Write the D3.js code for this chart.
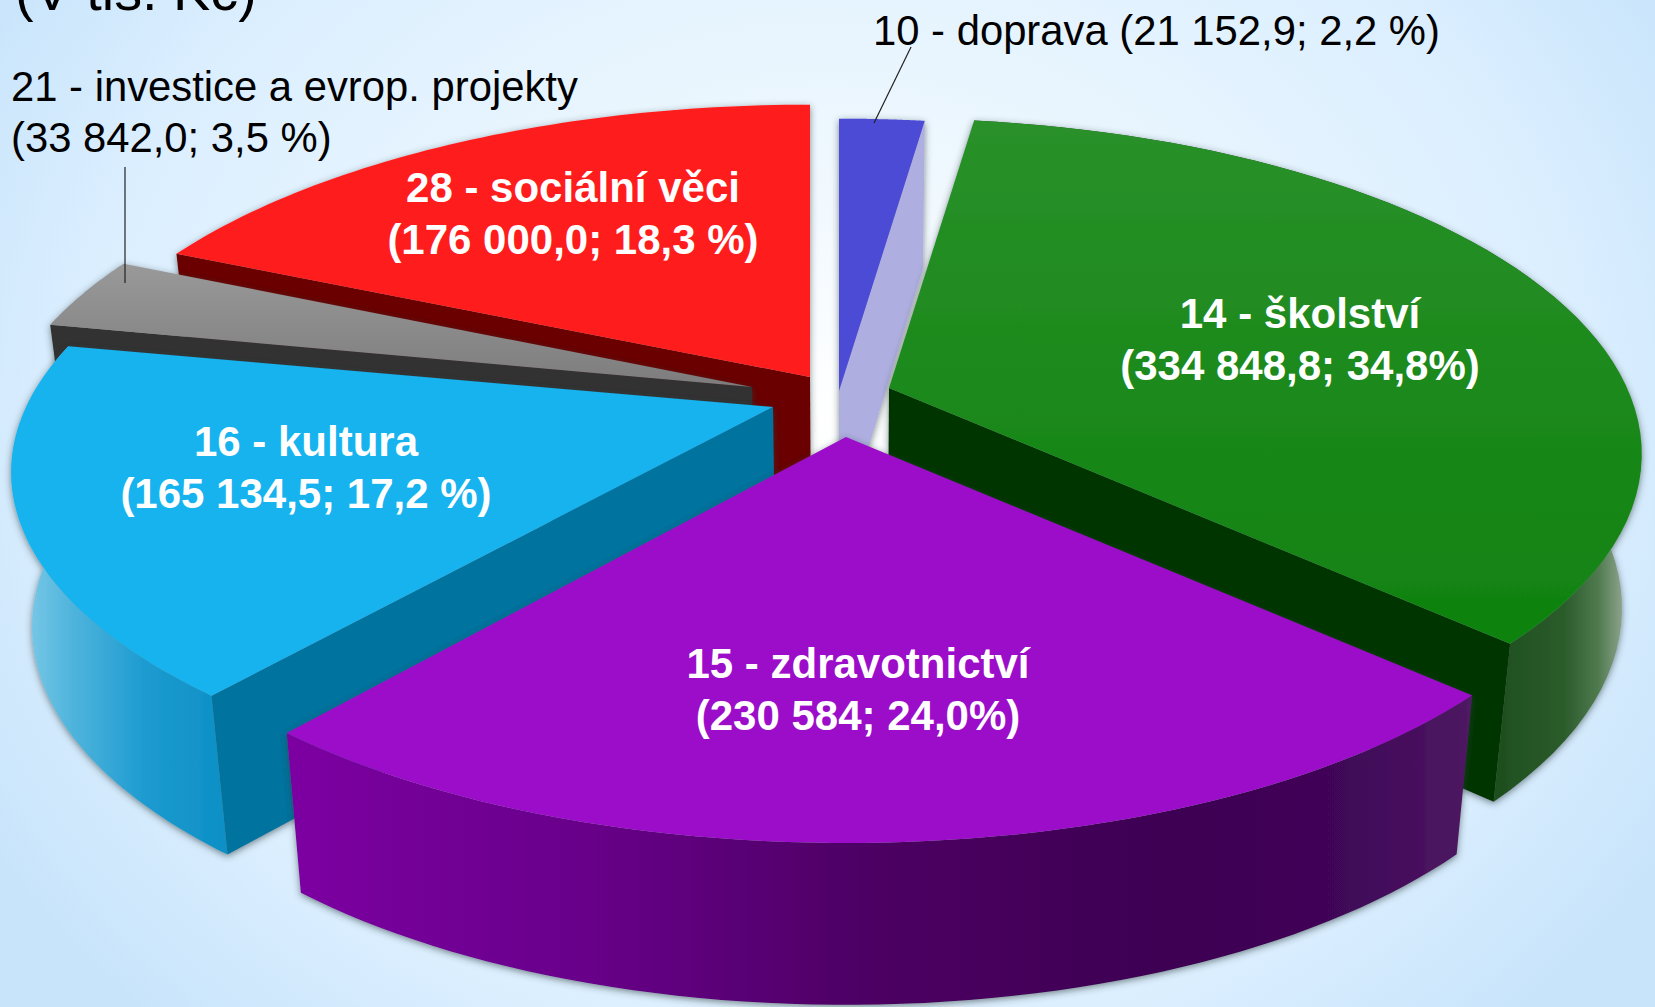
<!DOCTYPE html>
<html>
<head>
<meta charset="utf-8">
<script src="https://cdn.jsdelivr.net/npm/d3@7"></script>
<style>
	html, body { margin: 0; padding: 0; overflow: hidden; background: #e2f1fd; }
	svg { display: block; }
	text { font-family: "Liberation Sans", Arial, sans-serif; }
</style>
</head>
<body>
<div id="chart"></div>
<script>
// data
const codes = ["10", "14", "15", "16", "21", "28"];
const names = ["doprava", "školství", "zdravotnictví", "kultura", "investice a evrop. projekty", "sociální věci"];
const values = [21152.9, 334848.8, 230584, 165134.5, 33842.0, 176000.0];
const valueLabels = ["21 152,9", "334 848,8", "230 584", "165 134,5", "33 842,0", "176 000,0"];
const shareLabels = ["2,2 %", "34,8%", "24,0%", "17,2 %", "3,5 %", "18,3 %"];
const unitLabel = "(V tis. Kč)";

const width = 1655, height = 1007;

// 3d look
const radX = 744, radY = 326, persp = 0.197;
const vanishX = 850, shrink = 0.975, depth = 159;
const center = [825, 395];
const explode = [[14, -4], [64, -7], [21, 42], [-52, 12], [-73, -8], [-15, -18]];
const stretchX = [1, 0.992, 1, 1.004, 1, 1.008];
const stretchY = [1, 0.99, 1, 0.975, 1, 1];

const topColors = ["#4c4cd6", "url(#topGreen)", "#9c0bc9", "#15b3ef", "url(#topGray)", "#ff1e1e"];
const sideColors = ["#aeaee0", "#023402", null, "#06739f", "#333333", "#6a0000"];
// which radial edge shows its side: 1 = end angle, 0 = start angle
const sideEdge = [1, 1, null, 0, 0, 0];
const wallFills = [null, "url(#wallGreen)", "url(#wallPurple)", "url(#wallBlue)", null, null];
const drawOrder = [5, 4, 0, 1, 3, 2];

const svg = d3.select("#chart").append("svg")
	.attr("width", width)
	.attr("height", height);

const defs = svg.append("defs");

function addGradient(id, x1, x2, stops, vertical) {
	const g = defs.append("linearGradient")
		.attr("id", id)
		.attr("gradientUnits", "userSpaceOnUse")
		.attr("x1", vertical ? 0 : x1).attr("x2", vertical ? 0 : x2)
		.attr("y1", vertical ? x1 : 0).attr("y2", vertical ? x2 : 0);
	stops.forEach(s => g.append("stop").attr("offset", s[0]).attr("stop-color", s[1]));
}
addGradient("topGreen", 110, 640, [[0, "#2a912a"], [1, "#0f820f"]], true);
addGradient("topGray", 260, 390, [[0, "#9a9a9a"], [1, "#7c7c7c"]], true);
addGradient("wallBlue", 20, 230, [[0, "#7fcbe8"], [0.25, "#4fb4dc"], [0.6, "#1c9bd0"], [1, "#0c8fc4"]], false);
addGradient("wallPurple", 285, 1470, [[0, "#7d00a2"], [0.25, "#68008a"], [0.5, "#4c0062"], [0.75, "#3c0052"], [0.92, "#42085a"], [1, "#4e1a62"]], false);
addGradient("wallGreen", 1490, 1640, [[0, "#1c4d1c"], [0.5, "#2c5c2c"], [0.72, "#4f7a4f"], [0.92, "#9aac9a"], [1, "#a8b8a8"]], false);

const bg = defs.append("radialGradient")
	.attr("id", "bg")
	.attr("gradientUnits", "userSpaceOnUse")
	.attr("cx", 830).attr("cy", 420).attr("r", 980)
	.attr("gradientTransform", "translate(830 420) scale(1 0.85) translate(-830 -420)");
[[0, "#ffffff"], [0.45, "#e8f5fe"], [0.75, "#dcefff"], [1, "#c8e4fb"]].forEach(s => {
	bg.append("stop").attr("offset", s[0]).attr("stop-color", s[1]);
});

const shadow = defs.append("filter")
	.attr("id", "shadow")
	.attr("x", "-10%").attr("y", "-10%").attr("width", "120%").attr("height", "120%");
shadow.append("feDropShadow")
	.attr("dx", 0).attr("dy", 2)
	.attr("stdDeviation", 3.5)
	.attr("flood-color", "#2a3a3a")
	.attr("flood-opacity", 0.6);

svg.append("rect")
	.attr("width", width)
	.attr("height", height)
	.attr("fill", "url(#bg)");

const arcs = d3.pie().sort(null).startAngle(0).endAngle(2 * Math.PI)(values);
const line = d3.line();

function project(i, angle, r) {
	const side = Math.sin(angle) * r, fwd = -Math.cos(angle) * r;
	const s = 1 / (1 - persp * fwd);
	return [
		center[0] + explode[i][0] + radX * stretchX[i] * side * s,
		center[1] + explode[i][1] + radY * stretchY[i] * fwd * s
	];
}

function drop(p) {
	return [vanishX + (p[0] - vanishX) * shrink, p[1] + depth + (p[1] - 700) * 0.02];
}

function rimPoints(i) {
	const a = arcs[i];
	return d3.range(61).map(k => project(i, a.startAngle + (a.endAngle - a.startAngle) * k / 60, 1));
}

drawOrder.forEach(i => {
	const g = svg.append("g").attr("filter", "url(#shadow)");
	const rim = rimPoints(i);
	const apex = project(i, 0, 0);

	// outer wall, the back slices never show theirs
	if (wallFills[i]) {
		g.append("path")
			.attr("d", line(rim.concat(rim.map(drop).reverse())) + "Z")
			.attr("fill", wallFills[i]);
	}

	// radial side
	if (sideEdge[i] !== null) {
		const corner = sideEdge[i] ? rim[rim.length - 1] : rim[0];
		g.append("path")
			.attr("d", line([apex, corner, drop(corner), drop(apex)]) + "Z")
			.attr("fill", sideColors[i]);
	}

	// top
	g.append("path")
		.attr("d", line([apex].concat(rim)) + "Z")
		.attr("fill", topColors[i]);
});

// labels inside the big slices
const inside = [
	{i: 5, x: 573, y: 202},
	{i: 3, x: 306, y: 456},
	{i: 1, x: 1300, y: 328},
	{i: 2, x: 858, y: 678}
];
const insideText = svg.append("g")
	.attr("fill", "#fff")
	.attr("font-weight", "bold")
	.attr("font-size", 42)
	.attr("text-anchor", "middle");
inside.forEach(d => {
	insideText.append("text").attr("x", d.x).attr("y", d.y)
		.text(`${codes[d.i]} - ${names[d.i]}`);
	insideText.append("text").attr("x", d.x).attr("y", d.y + 51.5)
		.text(`(${valueLabels[d.i]}; ${shareLabels[d.i]})`);
});

// labels outside with leader lines
const outside = svg.append("g")
	.attr("fill", "#000")
	.attr("font-size", 41.8);
outside.append("text").attr("x", 873).attr("y", 45)
	.text(`${codes[0]} - ${names[0]} (${valueLabels[0]}; ${shareLabels[0]})`);
outside.append("text").attr("x", 11).attr("y", 101)
	.text(`${codes[4]} - ${names[4]}`);
outside.append("text").attr("x", 11).attr("y", 152)
	.text(`(${valueLabels[4]}; ${shareLabels[4]})`);

svg.append("text")
	.attr("x", 15).attr("y", 10)
	.attr("font-size", 55.8)
	.attr("fill", "#000")
	.text(unitLabel);

svg.append("line")
	.attr("x1", 125).attr("y1", 167).attr("x2", 125).attr("y2", 283)
	.attr("stroke", "#222").attr("stroke-width", 1.2);
svg.append("line")
	.attr("x1", 911).attr("y1", 47).attr("x2", 874).attr("y2", 123)
	.attr("stroke", "#222").attr("stroke-width", 1.2);
</script>
</body>
</html>
